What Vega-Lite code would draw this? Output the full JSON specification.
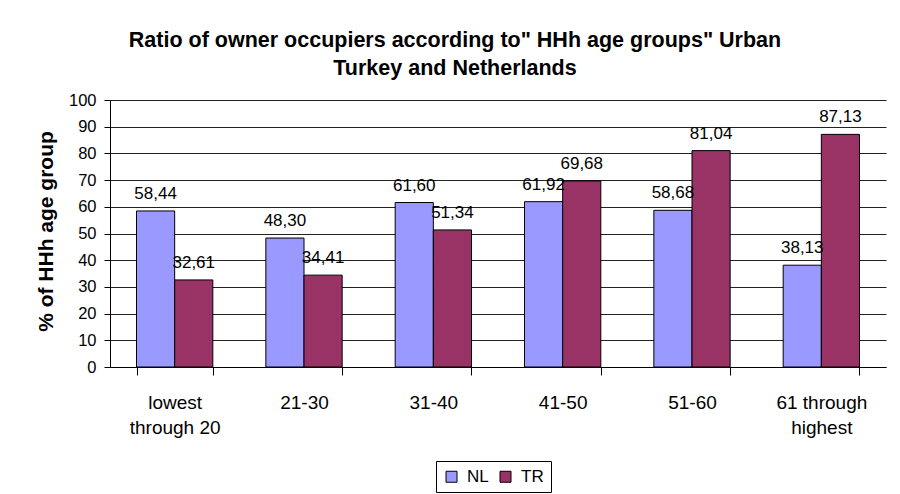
{
  "$schema": "https://vega.github.io/schema/vega-lite/v6.json",
  "width": 776,
  "height": 267,
  "autosize": "none",
  "padding": {"left": 110, "top": 100, "right": 14, "bottom": 127},
  "background": "white",
  "config": {
    "font": "Liberation Sans",
    "locale": {"number": {"decimal": ",", "thousands": ".", "grouping": [3], "currency": ["", ""]}},
    "view": {"stroke": null}
  },
  "title": {
    "text": ["Ratio of owner occupiers according to\" HHh age groups\" Urban", "Turkey and Netherlands"],
    "fontSize": 21.5,
    "fontWeight": "bold",
    "lineHeight": 28,
    "anchor": "middle",
    "frame": "group",
    "dx": -43,
    "offset": 13,
    "color": "black",
    "font": "Liberation Sans"
  },
  "data": {
    "values": [
      {"age": "lowest through 20", "country": "NL", "value": 58.44},
      {"age": "lowest through 20", "country": "TR", "value": 32.61},
      {"age": "21-30", "country": "NL", "value": 48.30},
      {"age": "21-30", "country": "TR", "value": 34.41},
      {"age": "31-40", "country": "NL", "value": 61.60},
      {"age": "31-40", "country": "TR", "value": 51.34},
      {"age": "41-50", "country": "NL", "value": 61.92},
      {"age": "41-50", "country": "TR", "value": 69.68},
      {"age": "51-60", "country": "NL", "value": 58.68},
      {"age": "51-60", "country": "TR", "value": 81.04},
      {"age": "61 through highest", "country": "NL", "value": 38.13},
      {"age": "61 through highest", "country": "TR", "value": 87.13}
    ]
  },
  "encoding": {
    "x": {
      "field": "age",
      "type": "nominal",
      "sort": null,
      "scale": {"paddingInner": 0.41, "paddingOuter": 0.205},
      "axis": {
        "title": null,
        "labelAngle": 0,
        "labelFontSize": 19,
        "labelColor": "black",
        "labelBaseline": "alphabetic",
        "labelPadding": 33,
        "labelLineHeight": 25,
        "labelExpr": "datum.label == 'lowest through 20' ? ['lowest', 'through 20'] : datum.label == '61 through highest' ? ['61 through', 'highest'] : datum.label",
        "tickBand": "extent",
        "tickSize": 8,
        "tickColor": "black",
        "domainColor": "black",
        "labelFont": "Liberation Sans"
      }
    },
    "xOffset": {"field": "country", "type": "nominal", "sort": ["NL", "TR"]},
    "y": {
      "field": "value",
      "type": "quantitative",
      "scale": {"domain": [0, 100], "nice": false},
      "axis": {
        "title": "% of HHh age group",
        "titleFontSize": 21,
        "titleFontWeight": "bold",
        "titleColor": "black",
        "titleFont": "Liberation Sans",
        "titleAngle": -90,
        "titleAlign": "center",
        "titleBaseline": "middle",
        "titleX": -64,
        "titleY": 131,
        "values": [0, 10, 20, 30, 40, 50, 60, 70, 80, 90, 100],
        "format": "d",
        "labelFontSize": 16.5,
        "labelColor": "black",
        "labelPadding": 8,
        "tickSize": 6,
        "tickColor": "black",
        "domainColor": "black",
        "grid": true,
        "gridColor": "#222222",
        "gridWidth": 1,
        "labelFont": "Liberation Sans"
      }
    }
  },
  "layer": [
    {
      "mark": {"type": "bar", "stroke": "black", "strokeWidth": 1},
      "encoding": {
        "color": {
          "field": "country",
          "type": "nominal",
          "scale": {"domain": ["NL", "TR"], "range": ["#9999FF", "#993366"]},
          "legend": {
            "title": null,
            "orient": "none",
            "direction": "horizontal",
            "legendX": 326,
            "legendY": 361,
            "strokeColor": "black",
            "padding": 7,
            "symbolType": "square",
            "symbolSize": 121,
            "symbolStrokeColor": "black",
            "symbolStrokeWidth": 1,
            "labelFontSize": 17,
            "labelColor": "black",
            "labelOffset": 7,
            "columnPadding": 8,
            "labelFont": "Liberation Sans"
          }
        }
      }
    },
    {
      "mark": {"type": "text", "baseline": "alphabetic", "dy": -12, "fontSize": 17, "color": "black", "font": "Liberation Sans"},
      "encoding": {
        "text": {"field": "value", "type": "quantitative", "format": ".2f"}
      }
    }
  ]
}
